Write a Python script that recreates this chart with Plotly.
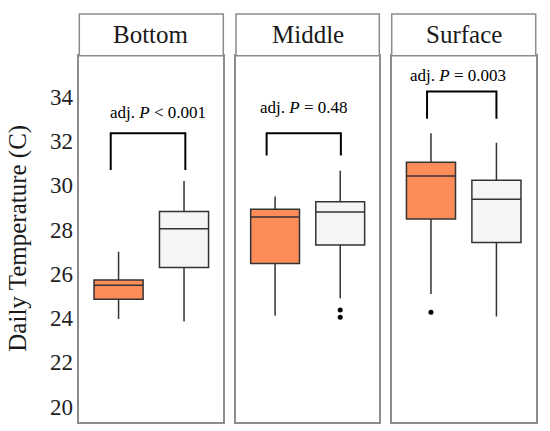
import plotly.graph_objects as go
from plotly.subplots import make_subplots

sites = ["Bottom", "Middle", "Surface"]

# orange group (left box in each panel)
q1_a = [24.85, 26.46, 28.48]
med_a = [25.48, 28.57, 30.42]
q3_a = [25.72, 28.92, 31.04]
lo_a = [23.96, 24.11, 25.09]
hi_a = [27.00, 29.49, 32.35]
out_a = [[], [], [24.26]]

# light grey group (right box)
q1_b = [26.28, 27.30, 27.41]
med_b = [28.03, 28.79, 29.37]
q3_b = [28.81, 29.25, 30.23]
lo_b = [23.84, 24.90, 24.07]
hi_b = [30.19, 30.65, 31.92]
out_b = [[], [24.37, 24.04], []]

# significance brackets
p_text = ["adj. <i>P</i> &lt; 0.001", "adj. <i>P</i> = 0.48", "adj. <i>P</i> = 0.003"]
p_x = [1.6, 1.45, 1.42]
p_y = [33.3, 33.52, 34.94]
br_left = [0.88, 0.87, 0.94]
br_right = [2.02, 2.01, 2.0]
br_top = [32.35, 32.35, 34.23]
br_tail = [30.69, 31.34, 33.0]

y_ticks = [20, 22, 24, 26, 28, 30, 32, 34]

orange = "#FC8D59"
grey = "#F5F5F5"
edge = "#333333"
font = "Liberation Serif"

W, H = 550, 431
panels_px = [(79.3, 223.3), (236, 379.3), (391.7, 535.7)]
top_px, bot_px, strip_px = 55.7, 421.7, 14

fig = make_subplots(rows=1, cols=3, shared_yaxes=True)

for i, s in enumerate(sites):
    c = i + 1
    fig.add_trace(go.Box(
        x=[1], q1=[q1_a[i]], median=[med_a[i]], q3=[q3_a[i]],
        lowerfence=[lo_a[i]], upperfence=[hi_a[i]],
        width=0.75, whiskerwidth=0, fillcolor=orange,
        line=dict(color=edge, width=1.5), boxpoints=False,
        hoverinfo="skip", showlegend=False), row=1, col=c)
    fig.add_trace(go.Box(
        x=[2], q1=[q1_b[i]], median=[med_b[i]], q3=[q3_b[i]],
        lowerfence=[lo_b[i]], upperfence=[hi_b[i]],
        width=0.75, whiskerwidth=0, fillcolor=grey,
        line=dict(color=edge, width=1.5), boxpoints=False,
        hoverinfo="skip", showlegend=False), row=1, col=c)
    ox = [1] * len(out_a[i]) + [2] * len(out_b[i])
    oy = out_a[i] + out_b[i]
    if oy:
        fig.add_trace(go.Scatter(x=ox, y=oy, mode="markers",
                                 marker=dict(color="black", size=5),
                                 showlegend=False, hoverinfo="skip"), row=1, col=c)
    # bracket
    fig.add_trace(go.Scatter(
        x=[br_left[i], br_left[i], br_right[i], br_right[i]],
        y=[br_tail[i], br_top[i], br_top[i], br_tail[i]],
        mode="lines", line=dict(color="black", width=2),
        showlegend=False, hoverinfo="skip"), row=1, col=c)
    fig.add_annotation(x=p_x[i], y=p_y[i], text=p_text[i], showarrow=False,
                       xref="x" if c == 1 else f"x{c}",
                       yref="y" if c == 1 else f"y{c}",
                       xanchor="center", yanchor="middle",
                       font=dict(family=font, size=17, color="black"))

    x0, x1 = panels_px[i]
    dom = [x0 / W, x1 / W]
    fig.update_xaxes(domain=dom, range=[0.4, 2.6], showticklabels=False,
                     ticks="", showgrid=False, zeroline=False,
                     showline=True, mirror=True, linecolor="#8c8c8c",
                     linewidth=1.5, row=1, col=c)
    fig.update_yaxes(range=[19.32, 35.85], tickvals=y_ticks, ticks="",
                     showgrid=False, zeroline=False, showline=True,
                     mirror=True, linecolor="#8c8c8c", linewidth=1.5,
                     tickfont=dict(family=font, size=23, color="#222"),
                     row=1, col=c)
    # strip
    fig.add_shape(type="rect", xref="paper", yref="paper",
                  x0=dom[0], x1=dom[1], y0=1 - top_px / H, y1=1 - strip_px / H,
                  line=dict(color="#8c8c8c", width=1.5), fillcolor="white")
    fig.add_annotation(xref="paper", yref="paper", x=(dom[0] + dom[1]) / 2,
                       y=1 - (top_px + strip_px) / 2 / H, text=s, showarrow=False,
                       xanchor="center", yanchor="middle",
                       font=dict(family=font, size=25, color="#1a1a1a"))

fig.update_yaxes(domain=[1 - bot_px / H, 1 - top_px / H])

fig.add_annotation(xref="paper", yref="paper", x=18 / W,
                   y=1 - (top_px + bot_px) / 2 / H, text="Daily Temperature (C)",
                   textangle=-90, showarrow=False,
                   xanchor="center", yanchor="middle",
                   font=dict(family=font, size=25, color="#1a1a1a"))

fig.update_layout(width=W, height=H, margin=dict(l=0, r=0, t=0, b=0),
                  plot_bgcolor="white", paper_bgcolor="white")

fig.write_html("out.html", config={"displayModeBar": False},
               post_script="document.body.style.margin='0';")
